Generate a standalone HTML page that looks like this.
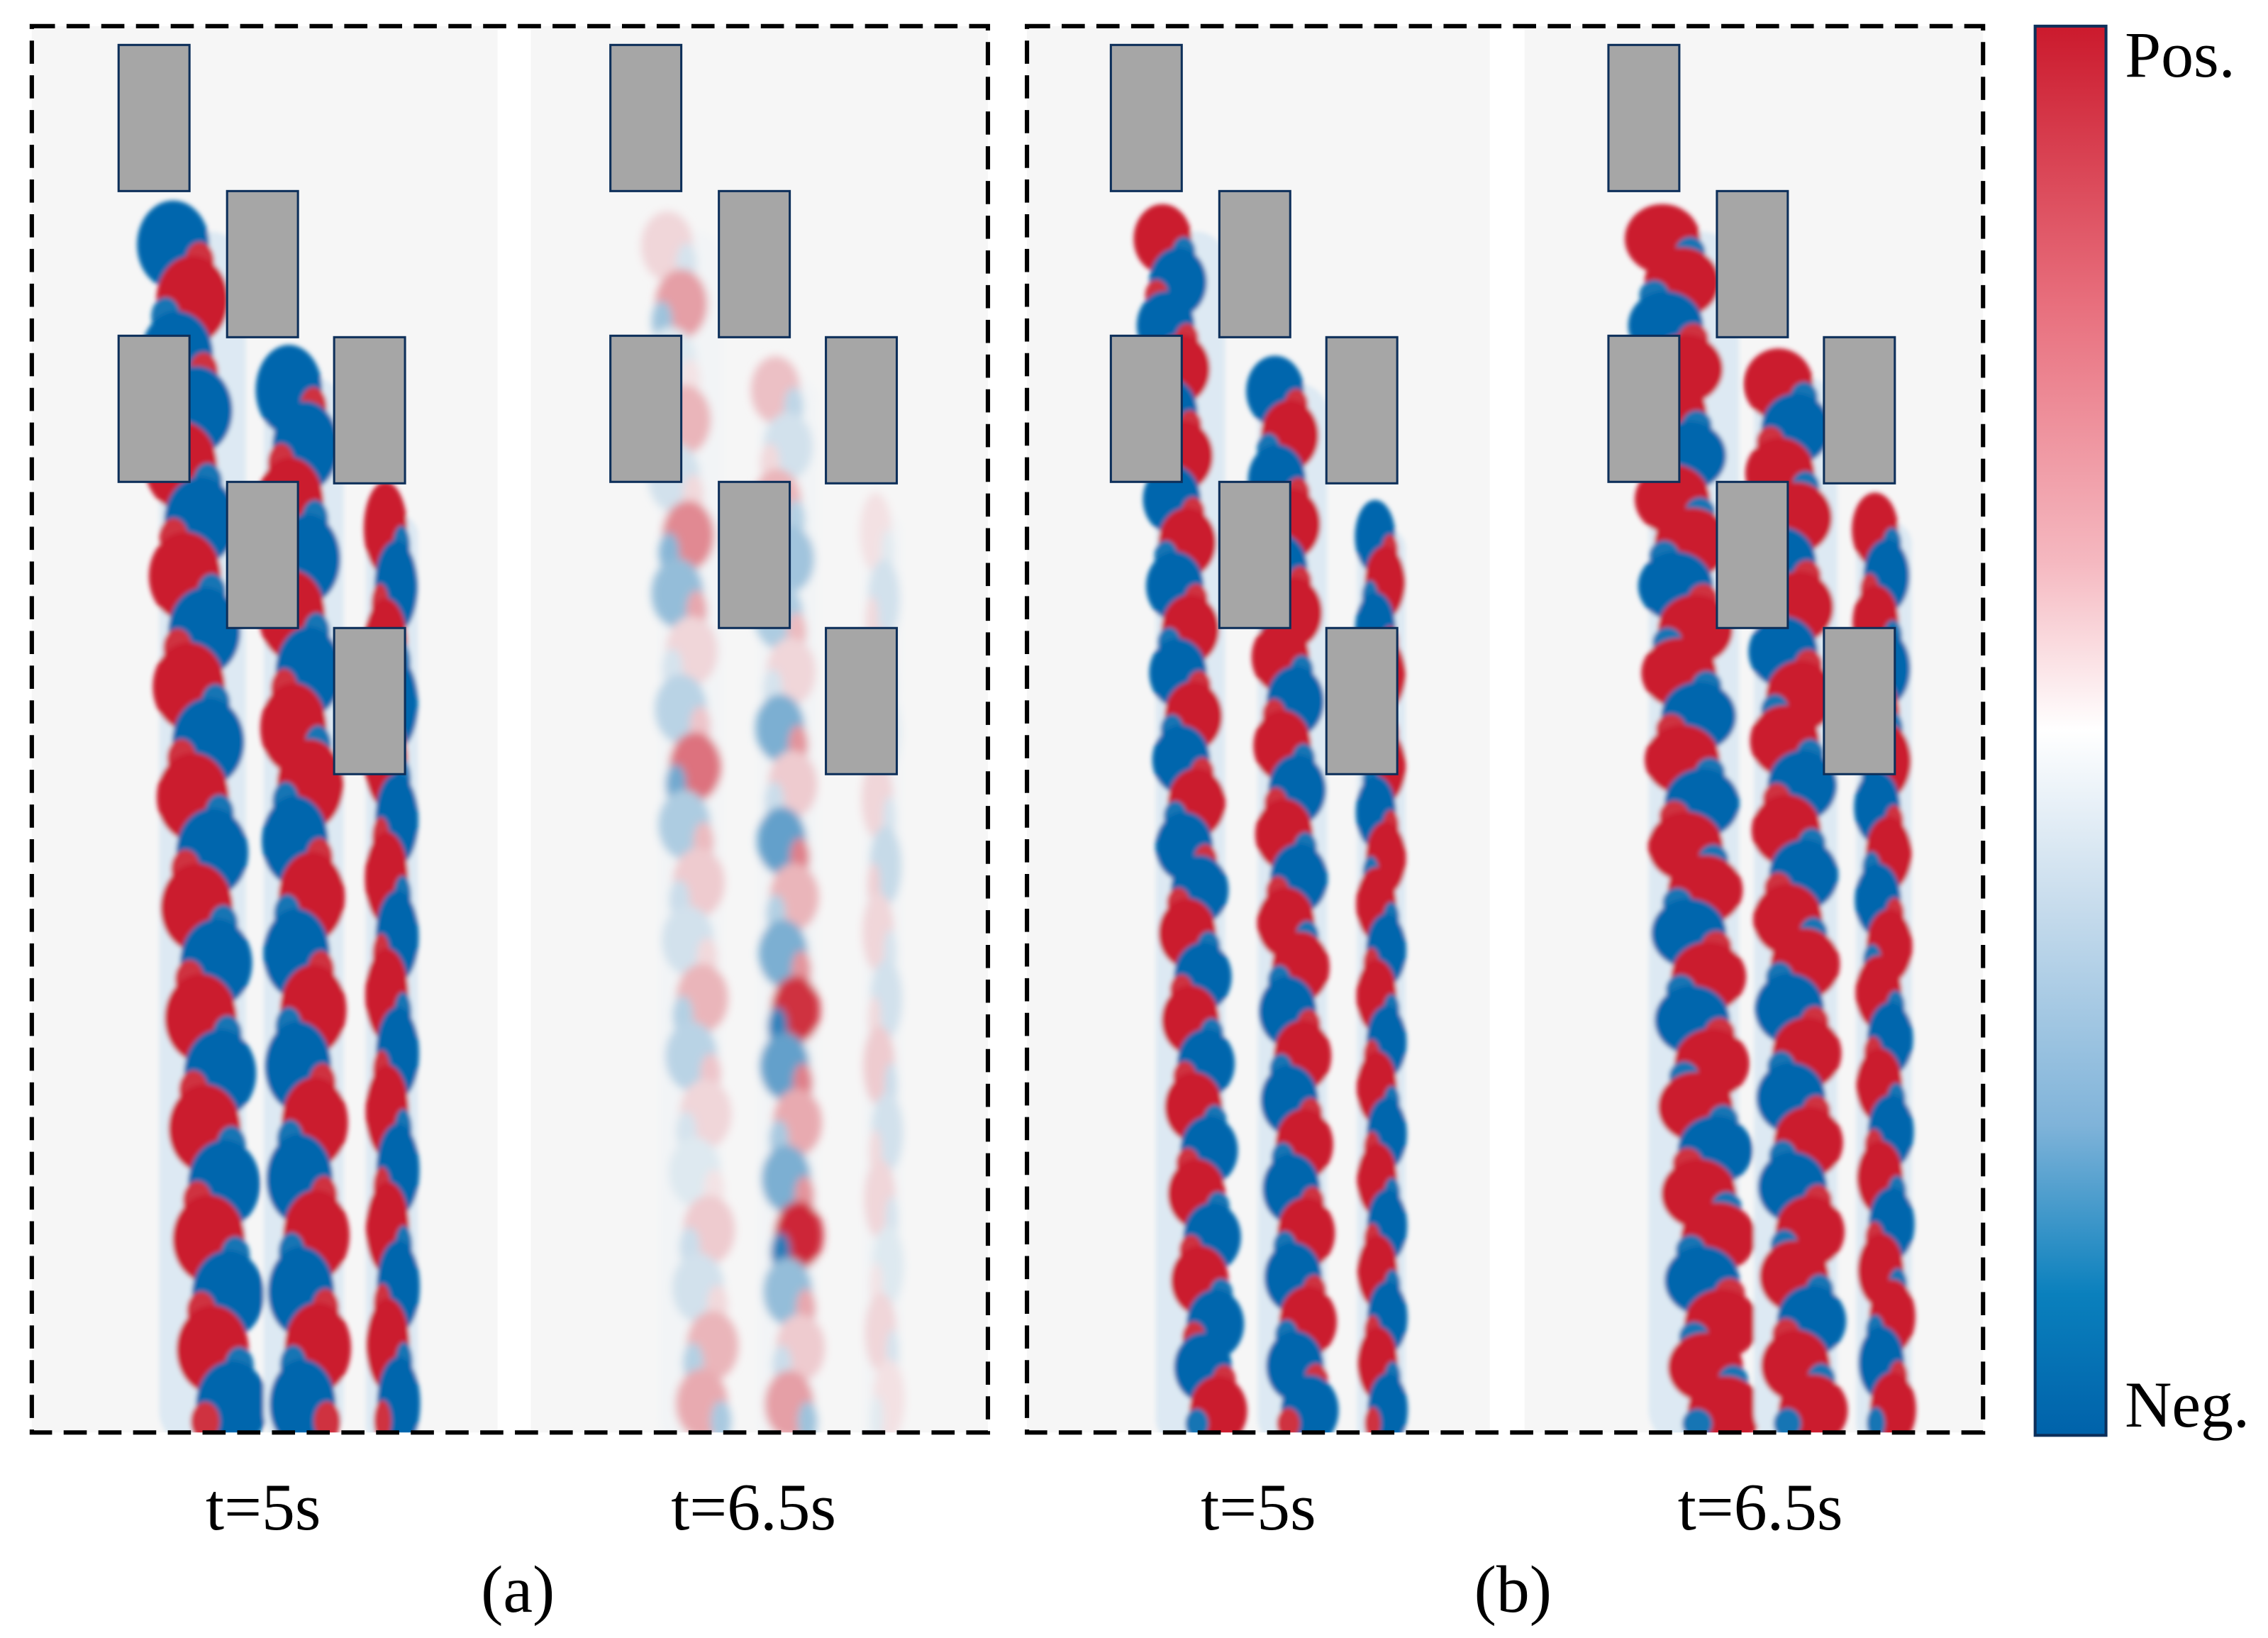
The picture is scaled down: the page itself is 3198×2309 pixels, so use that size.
<!DOCTYPE html>
<html><head><meta charset="utf-8"><style>
html,body{margin:0;padding:0;background:#fff;}
svg{display:block;}
text{font-family:"Liberation Serif",serif;fill:#000;}
</style></head><body>
<svg id="fig" width="3198" height="2309" viewBox="0 0 1568 1132" xmlns="http://www.w3.org/2000/svg">
<defs>
<linearGradient id="cbar" x1="0" y1="0" x2="0" y2="1">
<stop offset="0" stop-color="#cb1a2d"/><stop offset="0.2" stop-color="#e8707e"/>
<stop offset="0.38" stop-color="#f5b8c0"/><stop offset="0.5" stop-color="#ffffff"/>
<stop offset="0.62" stop-color="#c9dded"/><stop offset="0.78" stop-color="#7fb3d9"/>
<stop offset="0.9" stop-color="#0a80bd"/><stop offset="1" stop-color="#0062aa"/>
</linearGradient>
<filter id="soft"><feGaussianBlur stdDeviation="1.6"/></filter>
<filter id="softer"><feGaussianBlur stdDeviation="3"/></filter>
</defs>
<g id="panels"></g>
<rect x="22" y="18" width="661" height="972" fill="none" stroke="#000" stroke-width="3" stroke-dasharray="16 8"/>
<rect x="710" y="18" width="661" height="972" fill="none" stroke="#000" stroke-width="3" stroke-dasharray="16 8"/>
<rect x="1407" y="18" width="49" height="974" fill="url(#cbar)" stroke="#0d2f5a" stroke-width="2"/>
<text x="1469" y="53" font-size="45">Pos.</text>
<text x="1469" y="986" font-size="45">Neg.</text>
<text x="182" y="1057" font-size="46" text-anchor="middle">t=5s</text>
<text x="521" y="1057" font-size="46" text-anchor="middle">t=6.5s</text>
<text x="870" y="1057" font-size="46" text-anchor="middle">t=5s</text>
<text x="1217" y="1057" font-size="46" text-anchor="middle">t=6.5s</text>
<text x="358" y="1114" font-size="46" text-anchor="middle">(a)</text>
<text x="1046" y="1114" font-size="46" text-anchor="middle">(b)</text>
</svg>
<script>
// panel left edges & widths
const panelX = [22, 367, 710, 1054];
const panelW = [322, 316, 320, 317];
// cylinder columns (relative to panel group offset)
const cylCols = [82, 157, 231];
const cylRows = [[31, 232], [132, 333], [233, 434]];
const panelOffsets = [0, 340, 686, 1030];
// wake vorticity values per panel & wake (signed, -1 neg .. +1 pos)
const a1w1 = [-1,1,-1,-1,1,-1,1,-1,1,-1,1,-1,1,-1,1,-1,1,-1,1,-1,1,-1];
const a1w2 = [-1,-1,1,-1,1,-1,1,1,-1,1,-1,1,-1,1,-1,1,-1,1,-1];
const a1w3 = [1,-1,1,-1,1,-1,1,-1,1,-1,1,-1,1,-1,1,-1];
const a2w1 = [0.15,0.4,-0.1,0.3,-0.15,0.5,-0.4,0.15,-0.25,0.6,-0.3,0.2,-0.15,0.3,-0.25,0.15,-0.1,0.2,-0.15,0.3,0.35];
const a2w2 = [0.25,-0.15,0.3,-0.35,-0.3,0.15,-0.5,0.2,-0.6,0.3,-0.5,0.9,-0.6,0.35,-0.5,0.95,-0.4,0.2,0.4];
const a2w3 = [0.1,-0.15,0.15,-0.1,0.15,-0.2,0.15,-0.15,0.2,-0.15,0.15,-0.1,0.15,0.1];
const b1w1 = [1,-1,-1,1,-1,1,-1,1,-1,1,-1,1,-1,1,-1,-1,1,-1,1,-1,1,-1,1,-1,1,-1,-1,1];
const b1w2 = [-1,1,-1,1,-1,1,1,-1,1,-1,1,-1,1,1,-1,1,-1,1,-1,1,-1,1,-1,-1];
const b1w3 = [-1,1,-1,1,-1,1,-1,1,1,-1,1,-1,1,-1,1,-1,1,-1,1,-1];
const b2w1 = [1,1,-1,1,1,-1,1,1,-1,1,1,-1,1,-1,1,1,-1,1,-1,1,1,-1,1,1,-1,1,1,1];
const b2w2 = [1,-1,1,1,-1,1,-1,1,1,-1,1,-1,1,1,-1,1,-1,1,-1,1,1,-1,1,1];
const b2w3 = [1,-1,1,-1,1,1,-1,1,-1,1,1,-1,1,-1,1,-1,1,1,-1,1];
const panelVals = [[a1w1,a1w2,a1w3],[a2w1,a2w2,a2w3],[b1w1,b1w2,b1w3],[b2w1,b2w2,b2w3]];
// wake geometry (relative): [yStart, xTop, xBottom, width]
const wakeGeom = [
 [[150,125,155,50],[250,205,215,46],[345,270,272,30]],
 [[150,125,150,36],[250,200,210,34],[345,268,272,22]],
 [[150,122,152,40],[255,200,215,40],[355,268,270,28]],
 [[150,125,157,52],[250,205,218,48],[350,270,275,32]]
];
const bottomY = 990;
const NS='http://www.w3.org/2000/svg';
function col(v){
  const a=Math.min(1,Math.abs(v));
  const bg=[247,247,247], p=[203,26,45], n=[0,102,173];
  const t=v>=0?p:n;
  return 'rgb('+bg.map((b,i)=>Math.round(b+(t[i]-b)*a)).join(',')+')';
}
const root=document.getElementById('panels');
for(let p=0;p<4;p++){
  const g=document.createElementNS(NS,'g');
  
  
  root.appendChild(g);
  const bgr=document.createElementNS(NS,'rect');
  bgr.setAttribute('x',panelX[p]);bgr.setAttribute('y',18);
  bgr.setAttribute('width',panelW[p]);bgr.setAttribute('height',972);
  bgr.setAttribute('fill','#f6f6f6');
  
  
  g.appendChild(bgr);
  const clip=document.createElementNS(NS,'clipPath');
  clip.setAttribute('id','clip'+p);
  const cr=bgr.cloneNode();clip.appendChild(cr);g.appendChild(clip);
  const wg=document.createElementNS(NS,'g');
  wg.setAttribute('clip-path','url(#clip'+p+')');
  wg.setAttribute('filter', p===1?'url(#softer)':'url(#soft)');
  g.appendChild(wg);
  const off=panelOffsets[p];
  for(let w=0;w<3;w++){
    const vals=panelVals[p][w];const [y0,xt,xb,wd]=wakeGeom[p][w];
    const n=vals.length;const step=(bottomY-y0)/n;
    const halo=document.createElementNS(NS,'rect');
    halo.setAttribute('x',off+(xt+xb)/2-wd*0.6);halo.setAttribute('y',y0+10);
    halo.setAttribute('width',wd*1.2);halo.setAttribute('height',bottomY-y0);
    halo.setAttribute('fill',p===1?'#f2f4f6':'#dde9f3');halo.setAttribute('rx',wd*0.5);
    
    
    wg.appendChild(halo);
    for(let i=0;i<n;i++){
      const y=y0+step*(i+0.5);const f=(y-y0)/(bottomY-y0);
      const x=off+xt+(xb-xt)*f;const ww=wd;
      const e=document.createElementNS(NS,'ellipse');
      e.setAttribute('cx',x+(i%2?1:-1)*ww*0.12);e.setAttribute('cy',y);
      e.setAttribute('rx',ww*0.5);e.setAttribute('ry',step*(p===1?0.6:0.8));
      e.setAttribute('fill',col(vals[i]));
      
      
      wg.appendChild(e);
      const s=document.createElementNS(NS,'ellipse');
      s.setAttribute('cx',x+(i%2?-1:1)*ww*0.25);s.setAttribute('cy',y+step*0.3);
      s.setAttribute('rx',ww*0.2);s.setAttribute('ry',step*0.35);
      s.setAttribute('fill',col(-vals[i]*0.9));
      
      
      wg.appendChild(s);
    }
  }
  for(let c=0;c<3;c++){
    for(let r=0;r<2;r++){
      const rc=document.createElementNS(NS,'rect');
      rc.setAttribute('x',off+cylCols[c]);rc.setAttribute('y',cylRows[c][r]);
      rc.setAttribute('width',49);rc.setAttribute('height',101);
      rc.setAttribute('fill','#a6a6a6');rc.setAttribute('stroke','#0d2f5a');rc.setAttribute('stroke-width','1.5');
      
      
      g.appendChild(rc);
    }
  }
}
</script>
</body></html>
